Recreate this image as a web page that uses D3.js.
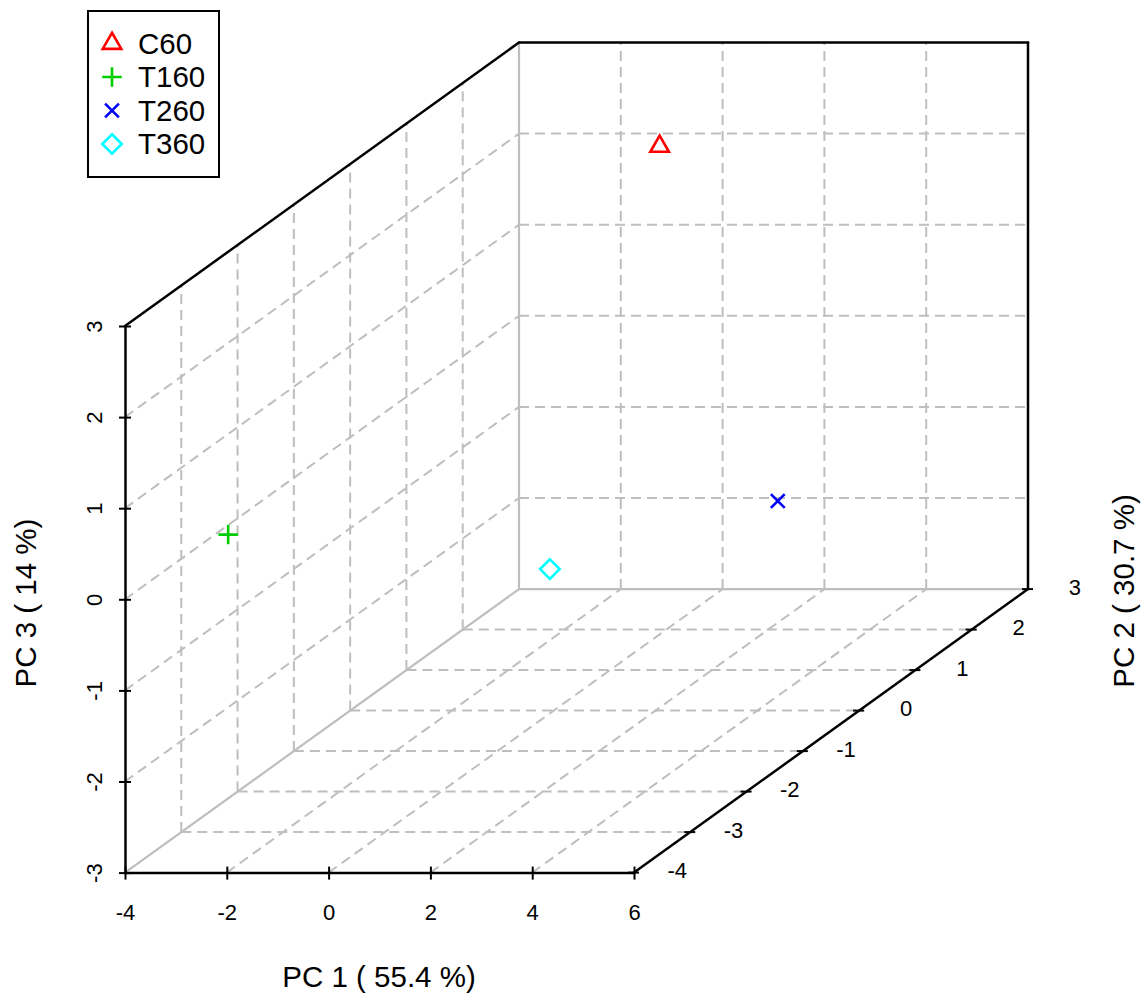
<!DOCTYPE html>
<html>
<head>
<meta charset="utf-8">
<script src="https://cdn.jsdelivr.net/npm/d3@7"></script>
<style>
  body { margin: 0; background: #fff; }
  text { font-family: "Liberation Sans", Arial, sans-serif; fill: #000; }
</style>
</head>
<body>
<div id="pca3d"></div>
<script>
// PCA scores, 3D scatter (scatterplot3d look) with grids on the three back planes

// samples and their scores on the three components
var samples = ["C60", "T160", "T260", "T360"];
var pc1 = [-0.64, -2.57, 5.22, -2.00];
var pc2 = [2.46, -3.46, -0.74, 1.74];
var pc3 = [2.10, 0.47, -0.37, -2.22];

// tick values of each axis
var xTicks = [-4, -2, 0, 2, 4, 6];
var yTicks = [-4, -3, -2, -1, 0, 1, 2, 3];
var zTicks = [-3, -2, -1, 0, 1, 2, 3];

var axisTitles = ["PC 1 ( 55.4 %)", "PC 2 ( 30.7 %)", "PC 3 ( 14 %)"];
var colors = ["#FF0000", "#00CD00", "#0000FF", "#00FFFF"];
var shapes = ["triangle", "plus", "cross", "diamond"];

var width = 1144, height = 999;

var svg = d3.select("#pca3d")
  .append("svg")
    .attr("width", width)
    .attr("height", height);

// front plane scales, the depth axis is a skewed offset
var x = d3.scaleLinear().domain([-4, 6]).range([125, 634]);
var z = d3.scaleLinear().domain([-3, 3]).range([872.6, 326]);
var y = d3.scaleLinear().domain([-4, 3]).range([0, 1]);
var depth = {dx: 394, dy: -283.5};

function proj(px, py, pz) {
  var t = y(py);
  return [x(px) + t * depth.dx, z(pz) + t * depth.dy];
}

function seg(g, a, b) {
  return g.append("line")
    .attr("x1", a[0]).attr("y1", a[1])
    .attr("x2", b[0]).attr("y2", b[1]);
}

var x0 = -4, x1 = 6, y0 = -4, y1 = 3, z0 = -3, z1 = 3;

// dashed grids
var grid = svg.append("g")
  .attr("stroke", "#BEBEBE")
  .attr("stroke-width", 2)
  .attr("stroke-dasharray", "10,6");

// floor (z = min)
yTicks.slice(1, -1).forEach(function(v) { seg(grid, proj(x0, v, z0), proj(x1, v, z0)); });
xTicks.slice(1, -1).forEach(function(v) { seg(grid, proj(v, y0, z0), proj(v, y1, z0)); });
// back wall (y = max)
xTicks.slice(1, -1).forEach(function(v) { seg(grid, proj(v, y1, z0), proj(v, y1, z1)); });
zTicks.slice(1, -1).forEach(function(v) { seg(grid, proj(x0, y1, v), proj(x1, y1, v)); });
// left wall (x = min)
zTicks.slice(1, -1).forEach(function(v) { seg(grid, proj(x0, y0, v), proj(x0, y1, v)); });
yTicks.slice(1, -1).forEach(function(v) { seg(grid, proj(x0, v, z0), proj(x0, v, z1)); });

// hidden box edges in grey
var inner = svg.append("g")
  .attr("stroke", "#BEBEBE")
  .attr("stroke-width", 2.2);
seg(inner, proj(x0, y0, z0), proj(x0, y1, z0));
seg(inner, proj(x0, y1, z0), proj(x1, y1, z0));
seg(inner, proj(x0, y1, z0), proj(x0, y1, z1));

// visible box edges
var box = svg.append("g")
  .attr("stroke", "#000")
  .attr("stroke-width", 2.5)
  .attr("stroke-linecap", "round");
seg(box, proj(x0, y0, z1), proj(x0, y1, z1));
seg(box, proj(x0, y1, z1), proj(x1, y1, z1));
seg(box, proj(x1, y1, z1), proj(x1, y1, z0));
seg(box, proj(x1, y0, z0), proj(x1, y1, z0));

// x axis (front bottom)
svg.append("g")
  .attr("transform", "translate(0," + z(z0) + ")")
  .call(d3.axisBottom(x).tickValues(xTicks).tickSize(7).tickSizeOuter(0)
    .tickFormat(function(d) { return String(d); }))
  .call(function(g) {
    g.attr("font-family", null).attr("font-size", null);
    g.select(".domain").attr("stroke-width", 2.5).attr("stroke-linecap", "round");
    g.selectAll(".tick line").attr("y1", -6).attr("stroke-width", 2);
    g.selectAll(".tick text").attr("y", 47).attr("dy", null).style("font-size", "22px");
  });

// z axis (front left), labels turned along the axis
svg.append("g")
  .attr("transform", "translate(" + x(x0) + ",0)")
  .call(d3.axisLeft(z).tickValues(zTicks).tickSize(6).tickSizeOuter(0)
    .tickFormat(function(d) { return String(d); }))
  .call(function(g) {
    g.attr("font-family", null).attr("font-size", null);
    g.select(".domain").attr("stroke-width", 2.5).attr("stroke-linecap", "round");
    g.selectAll(".tick line").attr("x1", 6).attr("stroke-width", 2);
    g.selectAll(".tick text")
      .attr("x", null).attr("dy", null)
      .attr("transform", "translate(-31,0) rotate(-90)")
      .attr("text-anchor", "middle")
      .attr("dy", "0.35em")
      .style("font-size", "22px");
  });

// y axis (depth, bottom right)
var yAxis = svg.append("g");
yTicks.forEach(function(v) {
  var p = proj(x1, v, z0);
  seg(yAxis, [p[0] - 6, p[1]], [p[0] + 5, p[1]])
    .attr("stroke", "#000").attr("stroke-width", 2);
  yAxis.append("text")
    .attr("x", p[0] + 53)
    .attr("y", p[1] - 2)
    .attr("dy", "0.35em")
    .attr("text-anchor", "end")
    .style("font-size", "22px")
    .text(String(v));
});

// axis titles
svg.append("text")
  .attr("x", 379).attr("y", 987)
  .attr("text-anchor", "middle")
  .style("font-size", "29.5px")
  .text(axisTitles[0]);
svg.append("text")
  .attr("transform", "translate(1124,591) rotate(-90)")
  .attr("text-anchor", "middle")
  .attr("dy", "0.35em")
  .style("font-size", "29.5px")
  .text(axisTitles[1]);
svg.append("text")
  .attr("transform", "translate(26,603) rotate(-90)")
  .attr("text-anchor", "middle")
  .attr("dy", "0.35em")
  .style("font-size", "29.5px")
  .text(axisTitles[2]);

// R-like point symbols, r is the base symbol radius
var r = 6.9;
function symbolPath(shape) {
  var p = d3.path();
  if (shape === "triangle") {
    var tr = 1.5551 * r, tx = 1.3468 * r, ty = 0.7776 * r;
    p.moveTo(0, -tr); p.lineTo(tx, ty); p.lineTo(-tx, ty); p.closePath();
  } else if (shape === "plus") {
    var a = 1.4142 * r;
    p.moveTo(-a, 0); p.lineTo(a, 0); p.moveTo(0, -a); p.lineTo(0, a);
  } else if (shape === "cross") {
    p.moveTo(-r, -r); p.lineTo(r, r); p.moveTo(-r, r); p.lineTo(r, -r);
  } else {
    var d = 1.4142 * r;
    p.moveTo(0, -d); p.lineTo(d, 0); p.lineTo(0, d); p.lineTo(-d, 0); p.closePath();
  }
  return p.toString();
}

var pts = samples.map(function(s, i) {
  return {name: s, pos: proj(pc1[i], pc2[i], pc3[i]), color: colors[i], shape: shapes[i]};
});

svg.append("g").selectAll("path")
  .data(pts)
  .enter()
  .append("path")
    .attr("transform", function(d) { return "translate(" + d.pos[0] + "," + d.pos[1] + ")"; })
    .attr("d", function(d) { return symbolPath(d.shape); })
    .attr("fill", "none")
    .attr("stroke", function(d) { return d.color; })
    .attr("stroke-width", 2.6);

// legend
var legend = svg.append("g");
legend.append("rect")
  .attr("x", 88).attr("y", 11)
  .attr("width", 131).attr("height", 166)
  .attr("fill", "#fff")
  .attr("stroke", "#000")
  .attr("stroke-width", 2);

var rows = legend.selectAll("g.row")
  .data(pts)
  .enter()
  .append("g")
    .attr("class", "row")
    .attr("transform", function(d, i) { return "translate(0," + (43.5 + i * 33.5) + ")"; });
rows.append("path")
  .attr("transform", "translate(112,0)")
  .attr("d", function(d) { return symbolPath(d.shape); })
  .attr("fill", "none")
  .attr("stroke", function(d) { return d.color; })
  .attr("stroke-width", 2.6);
rows.append("text")
  .attr("x", 138)
  .attr("dy", "0.35em")
  .style("font-size", "29.5px")
  .text(function(d) { return d.name; });
</script>
</body>
</html>
